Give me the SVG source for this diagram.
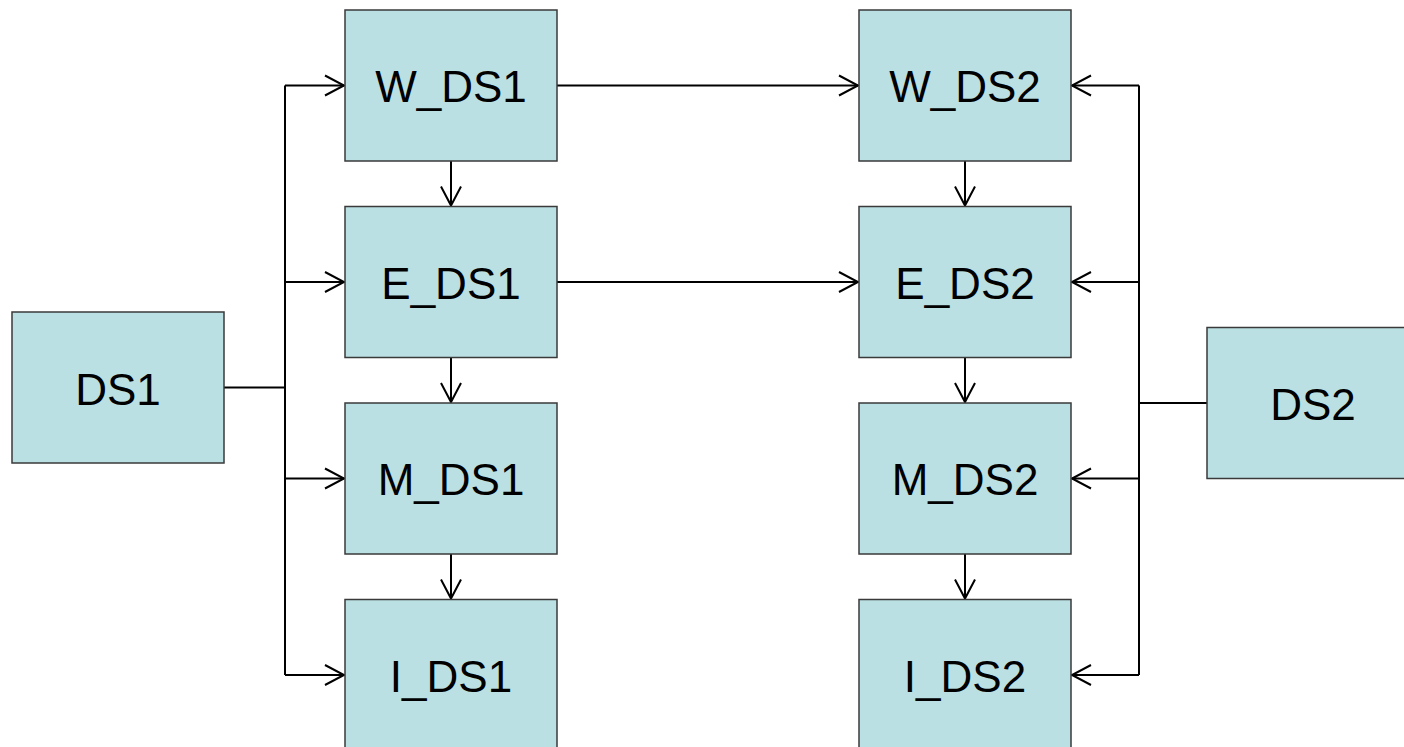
<svg xmlns="http://www.w3.org/2000/svg" width="1404" height="747" viewBox="0 0 1404 747">
<defs>
<style>
.box{fill:#BBE0E3;stroke:#3a3a3a;stroke-width:1.5}
.lbl{font-family:"Liberation Sans",Arial,sans-serif;font-size:44px;fill:#000;text-anchor:middle}
.ln{fill:none;stroke:#000;stroke-width:2}
.ar{marker-end:url(#arr)}
</style>
<marker id="arr" markerUnits="userSpaceOnUse" markerWidth="24" markerHeight="24" viewBox="-20 -12 22 24" refX="0" refY="0" orient="auto">
<path d="M-19,-10 L0,0 L-19,10" fill="none" stroke="#000" stroke-width="2"/>
</marker>
</defs>
<rect width="1404" height="747" fill="#fff"/>
<g id="connectors">
<path class="ln" d="M224,387.5 H285"/>
<path class="ln" d="M285,85.5 V675"/>
<path class="ln ar" d="M285,85.5 H344"/>
<path class="ln ar" d="M285,282 H344"/>
<path class="ln ar" d="M285,478.5 H344"/>
<path class="ln ar" d="M285,675 H344"/>
<path class="ln ar" d="M451,161 V205.5"/>
<path class="ln ar" d="M451,357.5 V402"/>
<path class="ln ar" d="M451,554 V598.5"/>
<path class="ln ar" d="M557,85.5 H858"/>
<path class="ln ar" d="M557,282 H858"/>
<path class="ln ar" d="M965,161 V205.5"/>
<path class="ln ar" d="M965,357.5 V402"/>
<path class="ln ar" d="M965,554 V598.5"/>
<path class="ln" d="M1207,403 H1139"/>
<path class="ln" d="M1139,85.5 V675"/>
<path class="ln ar" d="M1139,85.5 H1072"/>
<path class="ln ar" d="M1139,282 H1072"/>
<path class="ln ar" d="M1139,478.5 H1072"/>
<path class="ln ar" d="M1139,675 H1072"/>
</g>
<g id="DS1"><rect class="box" x="12" y="312" width="212" height="151"/><text class="lbl" x="118" y="404.5">DS1</text></g>
<g id="W_DS1"><rect class="box" x="345" y="10" width="212" height="151"/><text class="lbl" x="451" y="102">W_DS1</text></g>
<g id="E_DS1"><rect class="box" x="345" y="206.5" width="212" height="151"/><text class="lbl" x="451" y="298.5">E_DS1</text></g>
<g id="M_DS1"><rect class="box" x="345" y="403" width="212" height="151"/><text class="lbl" x="451" y="495">M_DS1</text></g>
<g id="I_DS1"><rect class="box" x="345" y="599.5" width="212" height="151"/><text class="lbl" x="451" y="691.5">I_DS1</text></g>
<g id="W_DS2"><rect class="box" x="859" y="10" width="212" height="151"/><text class="lbl" x="965" y="102">W_DS2</text></g>
<g id="E_DS2"><rect class="box" x="859" y="206.5" width="212" height="151"/><text class="lbl" x="965" y="298.5">E_DS2</text></g>
<g id="M_DS2"><rect class="box" x="859" y="403" width="212" height="151"/><text class="lbl" x="965" y="495">M_DS2</text></g>
<g id="I_DS2"><rect class="box" x="859" y="599.5" width="212" height="151"/><text class="lbl" x="965" y="691.5">I_DS2</text></g>
<g id="DS2"><rect class="box" x="1207" y="327.5" width="212" height="151"/><text class="lbl" x="1313" y="420">DS2</text></g>
</svg>
